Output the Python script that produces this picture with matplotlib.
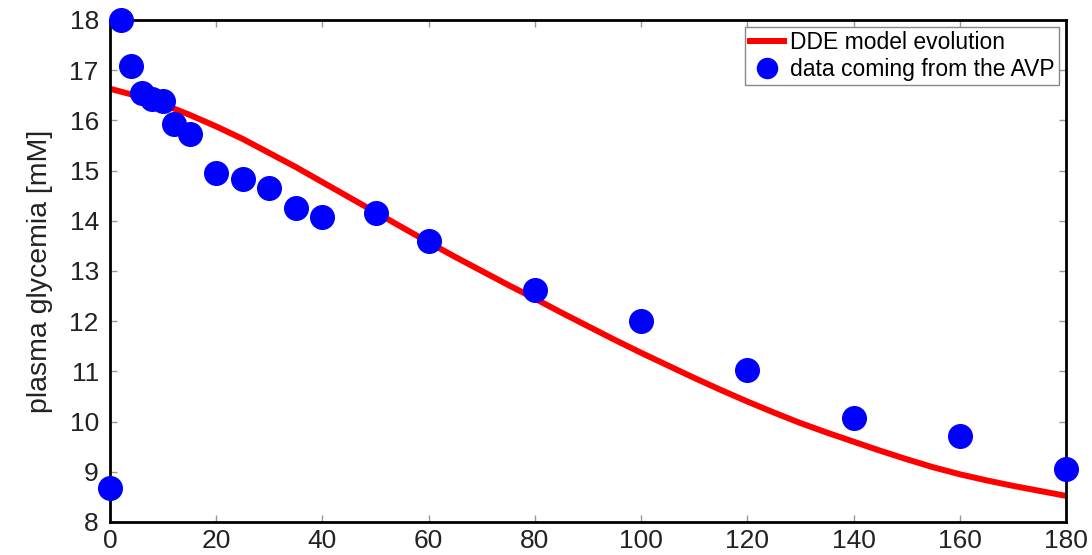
import matplotlib.pyplot as plt

plt.rcParams['font.family'] = ['Liberation Sans', 'DejaVu Sans']

# measured data (time in min, glycemia in mM)
t_data = [0, 2, 4, 6, 8, 10, 12, 15, 20, 25, 30, 35, 40, 50, 60, 80, 100, 120, 140, 160, 180]
g_data = [8.68, 18.0, 17.08, 16.55, 16.42, 16.38, 15.93, 15.73, 14.95, 14.83, 14.65,
          14.25, 14.07, 14.15, 13.6, 12.62, 12.0, 11.03, 10.07, 9.72, 9.05]

# DDE model curve
t_model = [0, 5, 10, 15, 20, 25, 30, 35, 40, 45, 50, 55, 60, 65, 70, 75, 80, 85, 90,
           95, 100, 105, 110, 115, 120, 125, 130, 135, 140, 145, 150, 155, 160, 165,
           170, 175, 180]
g_model = [16.63, 16.49, 16.32, 16.11, 15.88, 15.63, 15.35, 15.07, 14.77, 14.47, 14.17,
           13.87, 13.57, 13.28, 13.0, 12.72, 12.45, 12.17, 11.9, 11.63, 11.37, 11.12,
           10.87, 10.63, 10.4, 10.18, 9.97, 9.78, 9.6, 9.42, 9.25, 9.09, 8.95, 8.83,
           8.72, 8.62, 8.52]

fig = plt.figure(figsize=(10.92, 5.55), dpi=100)
ax = fig.add_axes([0.1007, 0.0595, 0.8755, 0.9045])

ax.plot(t_model, g_model, color='red', lw=4.3, label='DDE model evolution')
ax.plot(t_data, g_data, 'o', color='blue', ms=17, label='data coming from the AVP',
        clip_on=False, zorder=5)

ax.set_xlim(0, 180)
ax.set_ylim(8, 18)
ax.set_xticks(range(0, 181, 20))
ax.set_yticks(range(8, 19))
ax.tick_params(direction='in', top=True, right=True, labelsize=19, length=5,
               width=1, color='#999999', labelcolor='#222222')
ax.tick_params(axis='x', pad=5)
ax.tick_params(axis='y', pad=8)
for s in ax.spines.values():
    s.set_linewidth(2)
ax.set_ylabel('plasma glycemia [mM]', fontsize=20.5, labelpad=12, color='#222222')

leg = ax.legend(loc='upper right', fontsize=16.5, fancybox=False, framealpha=1,
                edgecolor='#888888', handlelength=1.5, handletextpad=0.25,
                borderpad=0.2, labelspacing=0.15, borderaxespad=0.3, markerscale=0.85)

fig.savefig('out.png', dpi=100)
